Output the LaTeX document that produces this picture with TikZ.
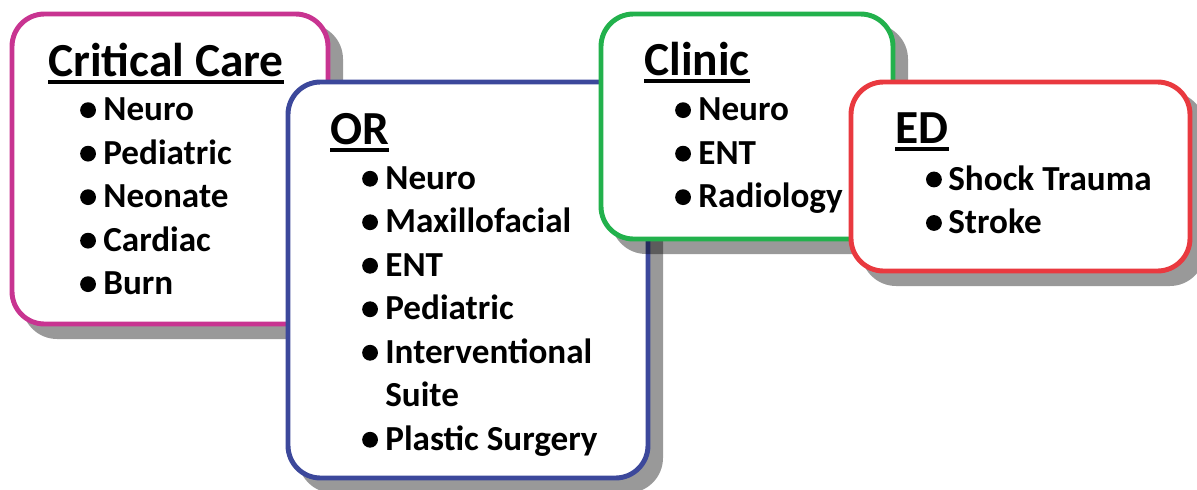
\documentclass[tikz,border=0pt]{standalone}
\usepackage{fontspec}
\setmainfont{Carlito}
\definecolor{ccpink}{RGB}{200,52,145}
\definecolor{orblue}{RGB}{60,72,155}
\definecolor{clgreen}{RGB}{34,177,76}
\definecolor{edred}{RGB}{233,57,63}
\begin{document}
\begin{tikzpicture}
[
 x=0.02cm, y=-0.02cm,
 BOX/.style={draw, fill=white, line width=2.8pt, rounded corners=18.5pt},
 SHADE/.style={fill=black, opacity=0.4, rounded corners=20pt},
 TITLE/.style={anchor=base west, inner sep=0, font=\fontsize{27}{32}\selectfont\bfseries},
 ITEM/.style={anchor=base west, inner sep=0, font=\fontsize{20}{24}\selectfont\bfseries},
 ]
\useasboundingbox (0,0) rectangle (1197,490);
%
% Critical Care
\fill[SHADE] (22,24) rectangle (343,339);
\draw[BOX, draw=ccpink] (12,14) rectangle (328,324);
\node[TITLE] (CCT) at (48,76) {Critical Care};
\draw[line width=2.6pt] ([yshift=-3.3pt]CCT.base west) -- ([yshift=-3.3pt]CCT.base east);
\foreach \t [count=\i] in {Neuro,Pediatric,Neonate,Cardiac,Burn} {
  \node[ITEM] (CC\i) at (103, 77.2+43.5*\i) {\t};
  \fill ([xshift=-8.5pt,yshift=6pt]CC\i.base west) circle (4.5pt);
}
%
% OR
\fill[SHADE] (298,92) rectangle (663,493);
\draw[BOX, draw=orblue] (288,82) rectangle (648,478);
\node[TITLE] (ORT) at (330,144) {OR};
\draw[line width=2.6pt] ([yshift=-3.3pt]ORT.base west) -- ([yshift=-3.3pt]ORT.base east);
\foreach \t/\b [count=\i] in {Neuro/1,Maxillofacial/1,ENT/1,Pediatric/1,Interventional/1,Suite/0,Plastic Surgery/1} {
  \node[ITEM] (OR\i) at (385, 145.8+43.5*\i) {\t};
  \ifnum\b=1 \fill ([xshift=-8.5pt,yshift=6pt]OR\i.base west) circle (4.5pt); \fi
}
%
% Clinic
\fill[SHADE] (611,24) rectangle (908,254);
\draw[BOX, draw=clgreen] (601,14) rectangle (893,239);
\node[TITLE] (CLT) at (644,75) {Clinic};
\draw[line width=2.6pt] ([yshift=-3.3pt]CLT.base west) -- ([yshift=-3.3pt]CLT.base east);
\foreach \t [count=\i] in {Neuro,ENT,Radiology} {
  \node[ITEM] (CL\i) at (698, 77.2+43.5*\i) {\t};
  \fill ([xshift=-8.5pt,yshift=6pt]CL\i.base west) circle (4.5pt);
}
%
% ED
\fill[SHADE] (861,92) rectangle (1205,286);
\draw[BOX, draw=edred] (851,82) rectangle (1190,271);
\node[TITLE] (EDT) at (895,143.3) {ED};
\draw[line width=2.6pt] ([yshift=-3.3pt]EDT.base west) -- ([yshift=-3.3pt]EDT.base east);
\foreach \t [count=\i] in {Shock Trauma,Stroke} {
  \node[ITEM] (ED\i) at (948, 146.5+43.5*\i) {\t};
  \fill ([xshift=-8pt,yshift=6pt]ED\i.base west) circle (4.5pt);
}
%
\end{tikzpicture}
\end{document}
